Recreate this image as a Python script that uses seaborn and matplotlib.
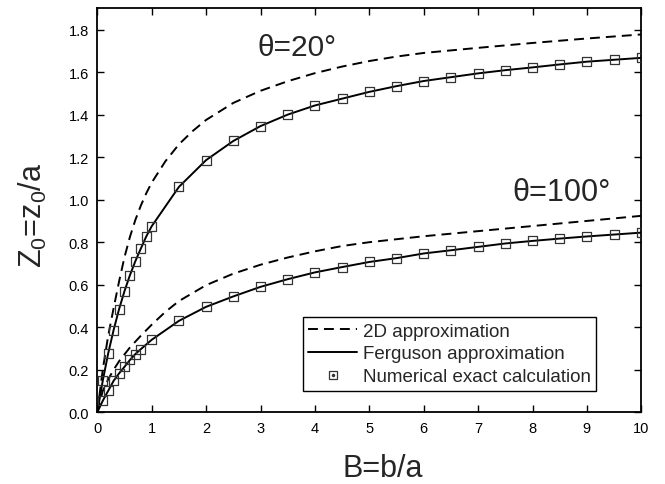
import matplotlib
matplotlib.use("Agg")
import matplotlib.pyplot as plt
import seaborn as sns
import pandas as pd
from matplotlib.lines import Line2D

# ---------------- data ----------------
# theta = 20 deg
x_2d_20 = [0, 0.1, 0.2, 0.3, 0.4, 0.5, 0.6, 0.7, 0.8, 0.9, 1.0, 1.25, 1.5, 1.75,
           2.0, 2.5, 3.0, 3.5, 4.0, 4.5, 5.0, 5.5, 6, 7, 8, 9, 10]
y_2d_20 = [0, 0.20, 0.36, 0.49, 0.615, 0.73, 0.825, 0.905, 0.972, 1.03, 1.08,
           1.18, 1.26, 1.322, 1.375, 1.455, 1.512, 1.557, 1.595, 1.626, 1.652,
           1.673, 1.69, 1.714, 1.737, 1.758, 1.777]
x_fer_20 = [0, 0.1, 0.2, 0.3, 0.4, 0.5, 0.6, 0.7, 0.8, 0.9, 1.0, 1.5, 2.0, 2.5, 3.0,
            3.5, 4.0, 4.5, 5.0, 5.5, 6.0, 6.5, 7.0, 7.5, 8.0, 8.5, 9.0, 9.5, 10.0]
y_fer_20 = [0, 0.148, 0.277, 0.387, 0.485, 0.57, 0.645, 0.711, 0.77, 0.827, 0.875,
            1.06, 1.186, 1.276, 1.346, 1.40, 1.443, 1.475, 1.507, 1.534, 1.558,
            1.576, 1.594, 1.609, 1.622, 1.636, 1.649, 1.658, 1.667]
x_num_20 = x_fer_20[1:]
y_num_20 = y_fer_20[1:]

# theta = 100 deg
x_2d_100 = [0, 0.1, 0.2, 0.3, 0.4, 0.6, 0.8, 1.0, 1.25, 1.5, 2.0, 2.5, 3.0, 3.5,
            4.0, 4.5, 5, 6, 7, 8, 9, 10]
y_2d_100 = [0, 0.10, 0.155, 0.20, 0.24, 0.305, 0.36, 0.412, 0.472, 0.523, 0.598,
            0.652, 0.694, 0.728, 0.757, 0.782, 0.80, 0.828, 0.852, 0.876, 0.90,
            0.924]
x_fer_100 = [0, 0.1, 0.2, 0.3, 0.4, 0.5, 0.6, 0.7, 0.8, 1.0, 1.5, 2.0, 2.5, 3.0,
             3.5, 4.0, 4.5, 5.0, 5.5, 6.0, 6.5, 7.0, 7.5, 8.0, 8.5, 9.0, 9.5, 10.0]
y_fer_100 = [0, 0.054, 0.101, 0.148, 0.183, 0.214, 0.246, 0.274, 0.297, 0.341,
             0.43, 0.496, 0.545, 0.59, 0.626, 0.658, 0.683, 0.707, 0.725, 0.747,
             0.762, 0.778, 0.794, 0.806, 0.817, 0.827, 0.836, 0.845]
x_num_100 = x_fer_100[1:]
y_num_100 = y_fer_100[1:]

x_ticks = [0, 1, 2, 3, 4, 5, 6, 7, 8, 9, 10]
y_ticks = [0.0, 0.2, 0.4, 0.6, 0.8, 1.0, 1.2, 1.4, 1.6, 1.8]
legend_labels = ["2D approximation", "Ferguson approximation",
                 "Numerical exact calculation"]

# ---------------- style ----------------
sns.set_style("ticks")
plt.rcParams['font.family'] = ['Liberation Sans', 'DejaVu Sans']
plt.rcParams['mathtext.fontset'] = 'custom'
plt.rcParams['mathtext.rm'] = 'Liberation Sans'
plt.rcParams['mathtext.it'] = 'Liberation Sans:italic'

fig = plt.figure(figsize=(6.65, 4.85), dpi=100)
ax = fig.add_axes([97.3 / 665, (485 - 413.3) / 485, 544 / 665, 404 / 485])

dash = (0, (5.1, 3.1))
lw = 1.4

for xs, ys in [(x_2d_20, y_2d_20), (x_2d_100, y_2d_100)]:
    df = pd.DataFrame({"B": xs, "Z": ys})
    sns.lineplot(data=df, x="B", y="Z", ax=ax, color="black", lw=lw,
                 linestyle=dash, errorbar=None)
for xs, ys in [(x_fer_20, y_fer_20), (x_fer_100, y_fer_100)]:
    df = pd.DataFrame({"B": xs, "Z": ys})
    sns.lineplot(data=df, x="B", y="Z", ax=ax, color="black", lw=lw,
                 linestyle="-", errorbar=None)
for xs, ys in [(x_num_20, y_num_20), (x_num_100, y_num_100)]:
    df = pd.DataFrame({"B": xs, "Z": ys})
    sns.scatterplot(data=df, x="B", y="Z", ax=ax, marker="s", s=42,
                    facecolor="none", edgecolor="#333333", linewidth=0.9,
                    zorder=3)

ax.set_xlim(0, 10)
ax.set_ylim(0, 1.9)
ax.set_xticks(x_ticks)
ax.set_xticklabels([str(t) for t in x_ticks])
ax.set_yticks(y_ticks)
ax.set_yticklabels([f"{t:.1f}" for t in y_ticks])
ax.tick_params(direction="in", length=5, width=1, top=True, right=True,
               labelsize=10.5, pad=6, colors="black")
for sp in ax.spines.values():
    sp.set_visible(True)
    sp.set_linewidth(1.3)
    sp.set_color("black")

ax.set_xlabel("B=b/a", fontsize=22)
ax.set_ylabel(r"Z$_\mathregular{0}$=z$_\mathregular{0}$/a", fontsize=22)
ax.xaxis.set_label_coords(0.525, -0.1)
ax.yaxis.set_label_coords(-0.088, 0.49)

ax.text(3.67, 1.72, "θ=20°", fontsize=21.5, ha="center", va="center")
ax.text(8.54, 1.035, "θ=100°", fontsize=22, ha="center", va="center")

h_dash = Line2D([], [], color="black", lw=lw, linestyle=dash)
h_solid = Line2D([], [], color="black", lw=lw, linestyle="-")
h_sq = Line2D([], [], color="none", marker="s", ms=5.5, mfc="none",
              mec="#333333", mew=0.9)
h_dot = Line2D([], [], color="none", marker="o", ms=1.5, mfc="#333333",
               mec="#333333")
leg = ax.legend([h_dash, h_solid, (h_sq, h_dot)], legend_labels,
                loc="upper left", bbox_to_anchor=(0.3776, 0.236),
                fontsize=13.5, frameon=True, fancybox=False, edgecolor="black",
                handlelength=2.6, handletextpad=0.3, labelspacing=0.3,
                borderpad=0.3, borderaxespad=0)
leg.get_frame().set_linewidth(1.0)
leg.get_frame().set_alpha(1)

fig.savefig("out.png", dpi=100)
